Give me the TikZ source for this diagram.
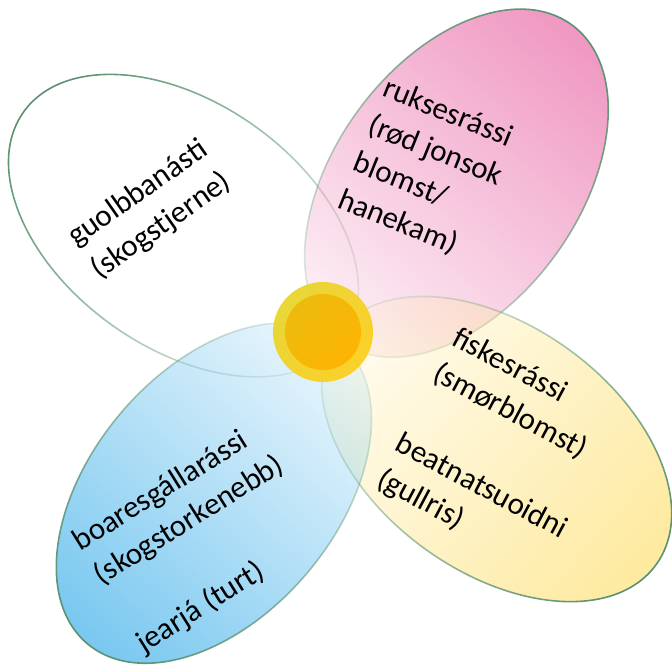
\documentclass[tikz,border=0pt]{standalone}
\usepackage{fontspec}
\setmainfont{Carlito}
\usetikzlibrary{fadings}

\definecolor{edgegreen}{RGB}{90,146,112}
\definecolor{pinkpetal}{RGB}{240,152,194}
\definecolor{yellowpetal}{RGB}{254,234,160}
\definecolor{bluepetal}{RGB}{122,200,240}
\definecolor{sunouter}{RGB}{254,206,26}
\definecolor{sunouterlow}{RGB}{232,212,40}
\definecolor{suninner}{RGB}{254,178,0}
\definecolor{suninnerlow}{RGB}{238,186,10}

\tikzfading[name=petalfade, left color=transparent!85, right color=transparent!0]

\begin{document}
\begin{tikzpicture}[
x=1pt, y=-1pt,
petal/.style={
  draw=edgegreen,
  line width=1.6pt,
  path fading=petalfade,
  },
sunring/.style={
  left color=sunouterlow,
  right color=sunouter,
  shading angle=45,
  opacity=0.92,
  },
suncore/.style={
  left color=suninnerlow,
  right color=suninner,
  shading angle=45,
  opacity=0.92,
  },
petaltext/.style={
  align=left,
  inner sep=0pt,
  font=\fontsize{31}{40}\selectfont,
  },
]
\useasboundingbox (0,0) rectangle (672,668);

\coordinate (sun) at (323,332);

% petals: centre / axis towards the tip / colour
\foreach \cx/\cy/\ang/\col in {181/226/144.6/white, 456/180/54/pinkpetal, 497/449/-36/yellowpetal, 214/494/230/bluepetal}
  \path[petal, fill=\col, fading angle=\ang, rotate around={\ang:(\cx,\cy)}]
    (\cx,\cy) ellipse [x radius=197, y radius=123];

\shade[sunring] (sun) circle [radius=50];
\shade[suncore] (sun) circle [radius=38];

\node[petaltext, rotate=35] (whitetext) at (150,210) {guolbbanásti\\(skogstjerne)};
\node[petaltext, rotate=-22] (pinktext) at (428,170) {ruksesrássi\\(rød jonsok\\blomst/\\hanekam)};
\node[petaltext, rotate=-28] (yellowtext) at (500,452) {fiskesrássi\\(smørblomst)\\[40pt]beatnatsuoidni\\(gullris)};
\node[petaltext, rotate=32] (bluetext) at (200,538) {boaresgállarássi\\(skogstorkenebb)\\[40pt]jearjá (turt)};

\end{tikzpicture}
\end{document}
